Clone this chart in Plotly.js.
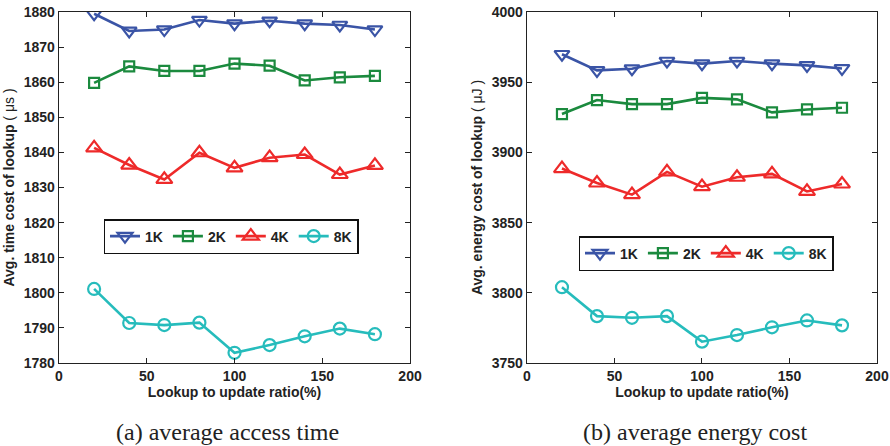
<!DOCTYPE html>
<html><head><meta charset="utf-8">
<script src="https://cdn.plot.ly/plotly-3.0.1.min.js"></script>
<style>body{margin:0;background:#fff}#c{width:890px;height:446px}</style>
</head><body><div id="c"></div>
<script>
const ratio = [20, 40, 60, 80, 100, 120, 140, 160, 180];
const seriesNames = ['1K', '2K', '4K', '8K'];
// (a) average access time (µs)
const time1K = [1879.5, 1874.6, 1875.0, 1877.7, 1876.7, 1877.5, 1876.7, 1876.3, 1875.0];
const time2K = [1859.8, 1864.5, 1863.2, 1863.2, 1865.3, 1864.7, 1860.5, 1861.4, 1861.8];
const time4K = [1841.3, 1836.4, 1832.3, 1839.9, 1835.6, 1838.5, 1839.4, 1833.7, 1836.3];
const time8K = [1801.1, 1791.4, 1790.8, 1791.5, 1782.9, 1785.1, 1787.6, 1789.8, 1788.2];
// (b) average energy cost (µJ)
const energy1K = [3969.9, 3958.4, 3959.6, 3965.1, 3963.2, 3965.1, 3963.2, 3962.0, 3959.8];
const energy2K = [3927.3, 3937.3, 3934.4, 3934.4, 3938.8, 3937.8, 3928.5, 3930.6, 3931.8];
const energy4K = [3888.5, 3878.2, 3869.9, 3886.1, 3875.6, 3882.3, 3884.7, 3872.2, 3877.5];
const energy8K = [3804.0, 3783.4, 3782.2, 3783.4, 3765.2, 3769.9, 3775.4, 3780.3, 3776.8];
const xTicks = [0, 50, 100, 150, 200];
const timeTicks = [1780, 1790, 1800, 1810, 1820, 1830, 1840, 1850, 1860, 1870, 1880];
const energyTicks = [3750, 3800, 3850, 3900, 3950, 4000];

const colors = ['#3a54a6', '#1b8a3e', '#ee2a2a', '#26bcbc'];
const symbols = ['triangle-down-open', 'square-open', 'triangle-up-open', 'circle-open'];
const sizes = [13, 10, 14, 12];

const traces = [];
[time1K, time2K, time4K, time8K].forEach((ys, i) => traces.push({
  x: ratio, y: ys, name: '<b>' + seriesNames[i] + '</b>', xaxis: 'x', yaxis: 'y', legend: 'legend',
  mode: 'lines+markers', line: {color: colors[i], width: 2.6},
  marker: {symbol: symbols[i], size: sizes[i], color: colors[i], line: {width: 2.2, color: colors[i]}}
}));
[energy1K, energy2K, energy4K, energy8K].forEach((ys, i) => traces.push({
  x: ratio, y: ys, name: '<b>' + seriesNames[i] + '</b>', xaxis: 'x2', yaxis: 'y2', legend: 'legend2',
  mode: 'lines+markers', line: {color: colors[i], width: 2.6},
  marker: {symbol: symbols[i], size: sizes[i], color: colors[i], line: {width: 2.2, color: colors[i]}}
}));

const FAM = 'Liberation Sans';
const tickFont = {family: FAM, size: 14, color: '#222'};
const titleFont = {family: FAM, size: 14, color: '#222'};
const bold = a => a.map(v => '<b>' + v + '</b>');
function xa(dom, anchor) {
  return {domain: dom, anchor: anchor, range: [0, 200], tickvals: xTicks, ticktext: bold(xTicks),
    ticks: 'inside', ticklen: 5,
    tickcolor: '#222', showline: true, linecolor: '#222', linewidth: 1.3, mirror: 'ticks', showgrid: false,
    zeroline: false, tickfont: tickFont,
    title: {text: '<b>Lookup to update ratio(%)</b>', font: titleFont, standoff: 1}};
}
function ya(range, tv, anchor, title) {
  return {domain: [0.1861, 0.9731], anchor: anchor, range: range, tickvals: tv, ticktext: bold(tv),
    ticks: 'inside', ticklen: 5,
    tickcolor: '#222', showline: true, linecolor: '#222', linewidth: 1.3, mirror: 'ticks', showgrid: false,
    zeroline: false, tickfont: tickFont, title: {text: title, font: titleFont, standoff: 5}};
}
const legendBase = {orientation: 'h', bgcolor: '#fff', bordercolor: '#111', borderwidth: 1.5,
  font: {family: FAM, size: 14, color: '#222'},
  xanchor: 'center', yanchor: 'top', tracegroupgap: 0};
const layout = {
  width: 890, height: 446, margin: {l: 0, r: 0, t: 0, b: 0},
  paper_bgcolor: '#fff', plot_bgcolor: '#fff', showlegend: true,
  xaxis: xa([0.0663, 0.4607], 'y'),
  yaxis: ya([1780, 1880], timeTicks, 'x', '<b>Avg. time cost of lookup</b> ( μs )'),
  xaxis2: xa([0.5921, 0.9854], 'y2'),
  yaxis2: ya([3750, 4000], energyTicks, 'x2', '<b>Avg. energy cost of lookup</b> ( μJ )'),
  legend: Object.assign({}, legendBase, {x: 231/890, y: 1 - 219/446}),
  legend2: Object.assign({}, legendBase, {x: 706/890, y: 1 - 236/446}),
  annotations: [
    {text: '(a) average access time', xref: 'paper', yref: 'paper', x: 228/890, y: 1 - 432/446,
     xanchor: 'center', yanchor: 'middle', showarrow: false,
     font: {family: 'Liberation Serif', size: 24, color: '#222'}},
    {text: '(b) average energy cost', xref: 'paper', yref: 'paper', x: 695/890, y: 1 - 432/446,
     xanchor: 'center', yanchor: 'middle', showarrow: false,
     font: {family: 'Liberation Serif', size: 24, color: '#222'}}
  ]
};
Plotly.newPlot('c', traces, layout, {displayModeBar: false, staticPlot: true});
</script></body></html>
